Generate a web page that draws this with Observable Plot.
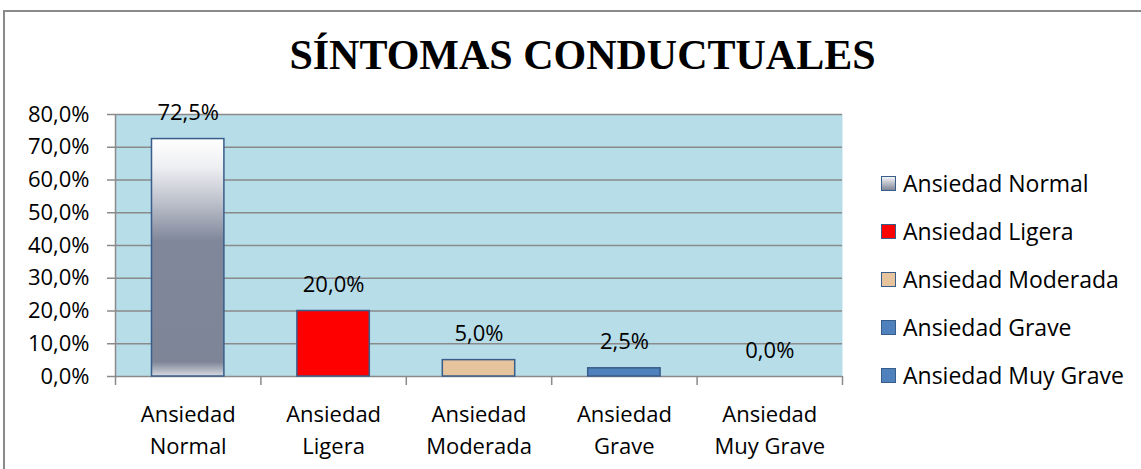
<!DOCTYPE html>
<html>
<head>
<meta charset="utf-8">
<script src="https://cdn.jsdelivr.net/npm/d3@7"></script>
<script src="https://cdn.jsdelivr.net/npm/@observablehq/plot@0.6"></script>
<style>
  html, body { margin: 0; padding: 0; background: #fff; }
  #wrap { position: relative; width: 1141px; height: 469px; overflow: hidden; font-family: "Open Sans", sans-serif; }
  #border { position: absolute; left: 3px; top: 10px; width: 1150px; height: 470px; border: 2px solid #8a8a8a; box-sizing: border-box; }
  #title { position: absolute; left: 12px; top: 27px; width: 1141px; text-align: center; font-family: "Liberation Serif", "Times New Roman", serif; font-weight: bold; font-size: 42px; line-height: 56px; color: #000; }
  #chart { position: absolute; left: 0; top: 0; }
  #legend { position: absolute; left: 881px; top: 159px; }
  .row { display: flex; align-items: center; height: 48px; font-size: 23px; color: #000; }
  .sw { width: 13px; height: 13px; border: 1px solid #385d8a; margin-right: 7px; }
</style>
</head>
<body>
<div id="wrap">
  <div id="border"></div>
  <div id="title">SÍNTOMAS CONDUCTUALES</div>
  <div id="chart"></div>
  <div id="legend"></div>
</div>
<script>
const categories = ["Ansiedad Normal", "Ansiedad Ligera", "Ansiedad Moderada", "Ansiedad Grave", "Ansiedad Muy Grave"];
const axisLabels = ["Ansiedad\nNormal", "Ansiedad\nLigera", "Ansiedad\nModerada", "Ansiedad\nGrave", "Ansiedad\nMuy Grave"];
const values = [0.725, 0.20, 0.05, 0.025, 0.0];
const fills = ["url(#gradNormal)", "#ff0000", "#e6c49d", "#4f81bd", "#4f81bd"];
const legendFills = ["linear-gradient(#f4f4f6, #7f8698)", "#ff0000", "#e6c49d", "#4f81bd", "#4f81bd"];
const yTicks = [0, 0.1, 0.2, 0.3, 0.4, 0.5, 0.6, 0.7, 0.8];

const fmt = d => (d * 100).toFixed(1).replace(".", ",") + "%";
const rows = categories.map((c, i) => ({i, cat: c, label: axisLabels[i], v: values[i], fill: fills[i]}));
const gridColor = "#8a8a8a";

const defs = () => {
  const d = d3.create("svg:defs");
  const g = d.append("linearGradient").attr("id", "gradNormal").attr("x1", 0).attr("y1", 0).attr("x2", 0).attr("y2", 1);
  [[0, "#ffffff"], [0.12, "#eeeff2"], [0.28, "#b9bdc8"], [0.43, "#80879a"], [0.94, "#7e8597"], [0.97, "#a9aebb"], [1, "#d6d9e0"]]
    .forEach(([o, c]) => g.append("stop").attr("offset", o).attr("stop-color", c));
  return d.node();
};

const chart = Plot.plot({
  width: 1141,
  height: 469,
  marginLeft: 115,
  marginRight: 299,
  marginTop: 114,
  marginBottom: 93,
  x: {domain: [0, categories.length]},
  y: {domain: [0, 0.8]},
  color: {type: "identity"},
  style: {fontFamily: "Open Sans", fontSize: "22px", background: "transparent", color: "#000", overflow: "visible"},
  marks: [
    defs,
    Plot.frame({fill: "#b7dde8", stroke: null}),
    Plot.ruleY(yTicks.slice(1), {stroke: gridColor, strokeWidth: 1.5}),
    Plot.ruleX([0], {stroke: gridColor, strokeWidth: 1.5}),
    Plot.ruleY([0], {stroke: gridColor, strokeWidth: 1.5}),
    Plot.rectY(rows.filter(d => d.v > 0), {x1: "i", x2: d => d.i + 1, y: "v", fill: "fill", stroke: "#385d8a", strokeWidth: 1.5, insetLeft: 36.5, insetRight: 36.5}),
    Plot.text(rows, {x: d => d.i + 0.5, y: "v", text: d => fmt(d.v), dy: -26, fontSize: 22, fill: "#000"}),
    Plot.axisY({ticks: yTicks, tickFormat: fmt, label: null, tickSize: 8, tickPadding: 18, stroke: gridColor, strokeWidth: 1.5, fill: "#000", fontSize: 22}),
    Plot.axisX({ticks: d3.range(categories.length + 1), tickFormat: () => "", label: null, tickSize: 9, stroke: gridColor, strokeWidth: 1.5}),
    Plot.text(rows, {x: d => d.i + 0.5, y: 0, text: "label", dy: 51, lineHeight: 1.45, fontSize: 22, fill: "#000"})
  ]
});
document.getElementById("chart").appendChild(chart);

const legend = d3.select("#legend");
categories.forEach((c, i) => {
  const r = legend.append("div").attr("class", "row");
  r.append("div").attr("class", "sw").style("background", legendFills[i]);
  r.append("span").text(c);
});
</script>
</body>
</html>
